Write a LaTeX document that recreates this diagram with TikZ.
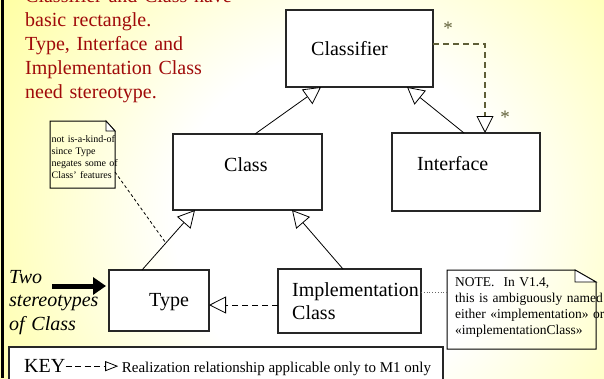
\documentclass[tikz,border=0pt]{standalone}
\usepackage{fontspec}
\setmainfont{Liberation Serif}
\usetikzlibrary{arrows.meta,calc}
\definecolor{bgyel}{RGB}{255,255,102}
\definecolor{redtxt}{RGB}{160,10,10}
\definecolor{starcol}{RGB}{95,95,55}
\pgfdeclareradialshading{bgshade}{\pgfpoint{0bp}{0bp}}{color(0bp)=(white); color(8bp)=(white); color(27bp)=(bgyel); color(50bp)=(bgyel)}
\begin{document}
\begin{tikzpicture}[x=1pt,y=-1pt,
  box/.style={draw=black!85,line width=1.3pt,fill=white,inner sep=0pt,outer sep=0pt},
  lbl/.style={inner sep=0pt,anchor=base west,font=\fontsize{20}{24}\selectfont},
  gen/.style={draw=black,line width=0.8pt,-{Triangle[length=17pt,width=18pt,fill=white,line width=0.8pt]}},
  real/.style={draw=black,line width=0.9pt,dash pattern=on 6pt off 4pt,-{Triangle[length=17pt,width=17pt,fill=white,color=black,line width=0.8pt]}},
  notebox/.style={draw=black,line width=1pt},
  fold/.style={draw=black,line width=0.8pt,fill=white},
  notearea/.style={inner sep=0pt,outer sep=0pt},
  startxt/.style={inner sep=0pt,anchor=base,text=starcol,font=\fontsize{19}{19}\selectfont}]
\useasboundingbox (0,0) rectangle (604,378);
% background
\begin{scope}
  \clip (0,0) rectangle (604,378);
  \shade[shading=bgshade] (340,220) circle (520pt);
\end{scope}
\draw[line width=3pt] (2,0) -- (2,378);

% red text
\node[lbl,text=redtxt,text width=220pt,align=left] (redtext) at (25,2)
  {Classifier and Class have\\basic rectangle.\\Type, Interface and\\Implementation Class\\need stereotype.};

% boxes
\node[box,minimum width=147pt,minimum height=77pt] (classifier) at (359.5,48.5) {};
\node[box,minimum width=149pt,minimum height=76pt] (class) at (247.5,172) {};
\node[box,minimum width=148pt,minimum height=78pt] (interface) at (466,172) {};
\node[box,minimum width=100pt,minimum height=61pt] (type) at (159,300.5) {};
\node[box,minimum width=143pt,minimum height=64pt] (impl) at (349.5,301) {};

\node[lbl] (tclassifier) at (311,55) {Classifier};
\node[lbl] (tclass) at (224,171.5) {Class};
\node[lbl] (tinterface) at (417,170.5) {Interface};
\node[lbl] (ttype) at (149,306) {Type};
\node[lbl,font=\fontsize{20}{23}\selectfont,text width=140pt,align=left] (timpl) at (292,296) {Implementation\\Class};

% generalizations
\draw[gen] ([xshift=7.5pt]class.north) -- ([xshift=-38.5pt]classifier.south);
\draw[gen] ([xshift=-2pt]interface.north) -- ([xshift=47.5pt]classifier.south);
\coordinate (tA) at ([xshift=-17pt]type.north);
\coordinate (tB) at ([xshift=-52.5pt]class.south);
\draw[gen] (tA) -- (tB);
\draw[gen] ([xshift=-6.5pt]impl.north) -- ([xshift=44.5pt]class.south);

% realization classifier -> interface
\draw[real,draw=starcol,line width=1.1pt] ([yshift=4.5pt]classifier.east) -| ([xshift=19pt]interface.north);
\node[startxt] (star1) at (448,34) {*};
\node[startxt] (star2) at (505,123) {*};

% realization impl -> type
\coordinate (rs) at ([yshift=-4pt]impl.west);
\draw[real] (rs) -- (rs -| type.east);

% right note
\node[notearea,minimum width=149pt,minimum height=79pt] (noteR) at (521.5,309.5) {};
\draw[notebox] (noteR.south west) -- (noteR.north west) -- ([xshift=-21pt]noteR.north east)
  -- ([yshift=-12pt]noteR.north east) -- (noteR.south east) -- cycle;
\draw[fold] ([xshift=-21pt]noteR.north east) -- ([xshift=-21pt,yshift=-12pt]noteR.north east)
  -- ([yshift=-12pt]noteR.north east) -- cycle;
\node[inner sep=0pt,anchor=base west,font=\fontsize{13.5}{16}\selectfont,text width=160pt,align=left] (tnoteR) at (455,286)
  {NOTE.\ \ In V1.4,\\this is ambiguously named\\either «implementation» or\\«implementationClass»};
\coordinate (ds) at ([yshift=9pt]impl.east);
\draw[dotted,draw=black!60,line width=0.8pt] (ds) -- (ds -| noteR.west);

% left note
\node[notearea,minimum width=65pt,minimum height=67pt] (noteL) at (82.5,154.5) {};
\draw[notebox] (noteL.south west) -- (noteL.north west) -- ([xshift=-9pt]noteL.north east)
  -- ([yshift=-10pt]noteL.north east) -- (noteL.south east) -- cycle;
\draw[fold] ([xshift=-9pt]noteL.north east) -- ([xshift=-9pt,yshift=-10pt]noteL.north east)
  -- ([yshift=-10pt]noteL.north east) -- cycle;
\node[inner sep=0pt,anchor=base west,font=\fontsize{10}{12}\selectfont,text width=80pt,align=left] (tnoteL) at (51.5,142.7)
  {not is-a-kind-of\\since Type\\negates some of\\Class' features};
\coordinate (nl) at ($(tA)!0.45!(tB)$);
\draw[draw=black,line width=0.8pt,dash pattern=on 3pt off 2.5pt] ([yshift=-17.5pt]noteL.east) -- (nl);

% Two stereotypes
\node[inner sep=0pt,anchor=base west,font=\fontsize{20}{23.5}\selectfont\itshape,text width=110pt,align=left] (two) at (9,283.3)
  {Two\\stereotypes\\of Class};
\coordinate (twostart) at (52,286);
\draw[line width=5pt,-{Triangle[length=13pt,width=17pt]}] (twostart) -- ([xshift=-3pt,yshift=14.5pt]type.west);

% key
\node[box,minimum width=434pt,minimum height=48pt] (key) at (226,371) {};
\node[lbl] (keyt) at (24,372.7) {KEY};
\node[inner sep=0pt,anchor=base west,font=\fontsize{15}{15}\selectfont] (realt) at (121.7,372.7)
  {Realization relationship applicable only to M1 only};
\draw[draw=black,line width=0.8pt,dash pattern=on 6pt off 3.5pt,shorten >=3.5pt,
  -{Triangle[length=13pt,width=10pt,fill=white,line width=0.8pt]}] (keyt.east) -- (keyt.east -| realt.west);
\end{tikzpicture}
\end{document}
